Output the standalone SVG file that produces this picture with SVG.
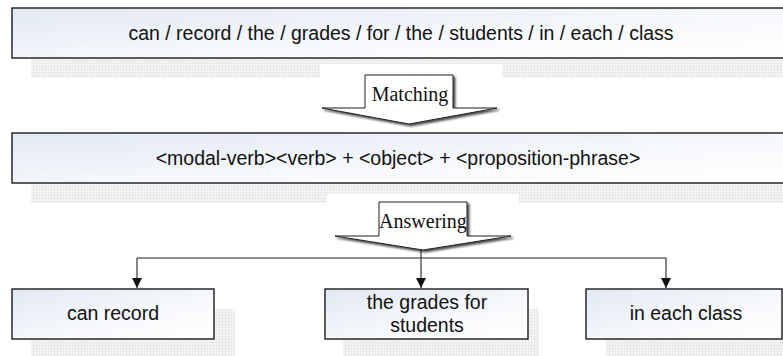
<svg xmlns="http://www.w3.org/2000/svg" width="783" height="356" viewBox="0 0 783 356">
<style>
.box{fill:url(#bg);stroke:#1a1a1a;stroke-width:1.4}
.sh{fill:url(#grid)}
.t{font-family:"Liberation Sans",Arial,sans-serif;font-size:19.5px;fill:#111;text-anchor:middle}
.lbl{font-family:"Liberation Serif","Times New Roman",serif;font-size:20px;fill:#111;text-anchor:middle}
.arr{fill:#fff;stroke:#222;stroke-width:1;filter:url(#ds)}
.con{fill:none;stroke:#222;stroke-width:1.1}
</style>
<defs>
<linearGradient id="bg" x1="0" y1="0" x2="1" y2="1">
<stop offset="0" stop-color="#e2e9f4"/>
<stop offset="0.6" stop-color="#f7f9fc"/>
<stop offset="1" stop-color="#ffffff"/>
</linearGradient>
<pattern id="grid" width="3" height="3" patternUnits="userSpaceOnUse">
<rect width="3" height="3" fill="#f6f6f6"/>
<path d="M0 0.5H3M0.5 0V3" stroke="#e9e9e9" stroke-width="1"/>
</pattern>
<filter id="ds" x="-20%" y="-20%" width="140%" height="160%">
<feDropShadow dx="2" dy="2" stdDeviation="1.2" flood-color="#000" flood-opacity="0.7"/>
</filter>
<marker id="ah" viewBox="0 0 10 10" refX="10" refY="5" markerWidth="10" markerHeight="10" markerUnits="userSpaceOnUse" orient="auto">
<path d="M0,0 L10,5 L0,10 Z" fill="#111"/>
</marker>
</defs>
<rect width="783" height="356" fill="#fff"/>

<g id="n-sentence">
<rect class="sh" x="31" y="28" width="760" height="50"/>
<rect class="box" x="12" y="8" width="780" height="50"/>
<text class="t" x="401" y="40">can / record / the / grades / for / the / students / in / each / class</text>
</g>

<g id="n-pattern">
<rect class="sh" x="31" y="153" width="760" height="50"/>
<rect class="box" x="12" y="133" width="780" height="50"/>
<text class="t" x="398" y="165">&lt;modal-verb&gt;&lt;verb&gt; + &lt;object&gt; + &lt;proposition-phrase&gt;</text>
</g>

<g id="n-matching">
<rect x="320" y="64" width="182" height="64" fill="#fff"/>
<path class="arr" d="M365,75 H453 V108 H497 L409,124 L322,108 H365 Z"/>
<text class="lbl" x="410" y="101">Matching</text>
</g>

<g id="n-answering">
<rect x="327" y="194" width="192" height="60" fill="#fff"/>
<path class="arr" d="M379,202 H467 V236 H511 L423,250 L335,236 H379 Z"/>
<text class="lbl" x="423" y="228">Answering</text>
</g>

<g id="connectors">
<path class="con" d="M137,258 H666"/>
<path class="con" d="M137,258 V288" marker-end="url(#ah)"/>
<path class="con" d="M421,249 V288" marker-end="url(#ah)"/>
<path class="con" d="M666,258 V288" marker-end="url(#ah)"/>
</g>

<g id="n-can-record">
<rect class="sh" x="31" y="309" width="204" height="47"/>
<rect class="box" x="12" y="289" width="202" height="50"/>
<text class="t" x="113" y="320">can record</text>
</g>

<g id="n-grades">
<rect class="sh" x="343" y="309" width="196" height="47"/>
<rect class="box" x="325" y="289" width="203" height="50"/>
<text class="t" x="427" y="309">the grades for</text>
<text class="t" x="427" y="332">students</text>
</g>

<g id="n-class">
<rect class="sh" x="606" y="309" width="177" height="47"/>
<rect class="box" x="586" y="289" width="196" height="50"/>
<text class="t" x="686" y="320">in each class</text>
</g>
</svg>
